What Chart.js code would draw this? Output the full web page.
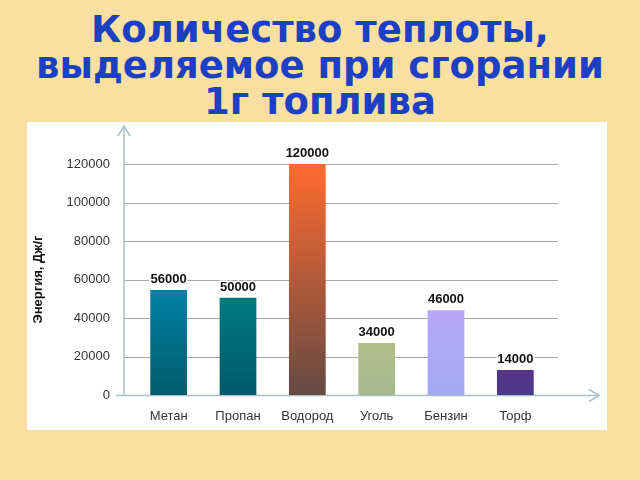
<!DOCTYPE html>
<html><head><meta charset="utf-8">
<script src="https://cdn.jsdelivr.net/npm/chart.js@4/dist/chart.umd.min.js"></script>
<style>
body{margin:0;width:640px;height:480px;background:#f9e0a2;position:relative;overflow:hidden}
h1{position:absolute;top:12px;left:0;width:640px;margin:0;text-align:center;font:bold 37px/36px "DejaVu Sans",sans-serif;color:#1d3fc4;white-space:nowrap}
#panel{position:absolute;left:27px;top:122px;width:580px;height:308px;background:#fff}
</style></head><body>
<h1>Количество теплоты,<br>выделяемое при сгорании<br>1г топлива</h1>
<div id="panel"><canvas id="c" width="580" height="308"></canvas></div>
<script>
const categories = ["Метан","Пропан","Водород","Уголь","Бензин","Торф"];
const values = [54500, 50500, 120000, 27000, 44000, 13000];
const valueLabels = ["56000","50000","120000","34000","46000","14000"];
const yTicks = [0, 20000, 40000, 60000, 80000, 100000, 120000];
const gradColors = [["#00aee8","#005c6c"],["#00a89c","#005a68"],["#ff6a30","#654a42"],
  ["#d4cc62","#a8b890"],["#dca2ff","#a2aaf0"],["#c0005a","#4a3a8a"]];

function byId(id){ return document.getElementById(id); }
const axisCol = "#a9c0c6";

const deco = {
  id:"deco",
  beforeDatasetsDraw(chart){
    const {ctx, chartArea:a, scales:{y}} = chart;
    const ax = a.left-10;
    ctx.save();
    ctx.strokeStyle="#a8a8a8"; ctx.lineWidth=1;
    yTicks.slice(1).forEach(v=>{
      const py=Math.round(y.getPixelForValue(v))+0.5;
      ctx.beginPath(); ctx.moveTo(ax,py); ctx.lineTo(531,py); ctx.stroke();
    });
    const y0=Math.round(y.getPixelForValue(0))+0.5;
    ctx.strokeStyle=axisCol; ctx.lineWidth=1.5;
    ctx.beginPath(); ctx.moveTo(ax,y0); ctx.lineTo(ax,4); ctx.stroke();
    ctx.beginPath(); ctx.moveTo(ax-6,14); ctx.lineTo(ax,4); ctx.lineTo(ax+6,14); ctx.stroke();
    ctx.beginPath(); ctx.moveTo(ax-8,y0); ctx.lineTo(572,y0); ctx.stroke();
    ctx.beginPath(); ctx.moveTo(562,y0-6); ctx.lineTo(572,y0); ctx.lineTo(562,y0+6); ctx.stroke();
    ctx.restore();
  },
  afterDatasetsDraw(chart){
    const {ctx} = chart;
    ctx.save();
    ctx.font='bold 13px "Liberation Sans",Arial,sans-serif';
    ctx.textAlign="center"; ctx.textBaseline="bottom";
    chart.getDatasetMeta(0).data.forEach((bar,i)=>{
      ctx.lineWidth=3; ctx.strokeStyle="#fff"; ctx.strokeText(valueLabels[i],bar.x,bar.y-4);
      ctx.fillStyle="#111"; ctx.fillText(valueLabels[i],bar.x,bar.y-4);
    });
    ctx.restore();
  }
};

new Chart(byId("c").getContext("2d"), {
  type:"bar",
  data:{ labels:categories, datasets:[{ data:values, barPercentage:0.53, categoryPercentage:1,
    backgroundColor:(c)=>{
      const a=c.chart.chartArea; if(!a) return gradColors[c.dataIndex][0];
      const bar=c.chart.getDatasetMeta(0).data[c.dataIndex];
      const top = bar && isFinite(bar.y) ? bar.y : a.top;
      const g=c.chart.ctx.createLinearGradient(0,top,0,a.bottom);
      g.addColorStop(0,gradColors[c.dataIndex][0]); g.addColorStop(1,gradColors[c.dataIndex][1]);
      return g;
    } }]},
  options:{
    responsive:false, animation:false,
    layout:{ padding:{ top:42, right:57, left:0, bottom:0 } },
    plugins:{ legend:{display:false}, tooltip:{enabled:false} },
    scales:{
      x:{ grid:{display:false}, border:{display:false},
        ticks:{ color:"#333", font:{size:13, family:"Liberation Sans"}, padding:6 },
        afterFit:s=>{ s.height=35; } },
      y:{ min:0, max:120000, grid:{display:false}, border:{display:false},
        afterBuildTicks:s=>{ s.ticks=yTicks.map(v=>({value:v})); },
        ticks:{ color:"#333", font:{size:13, family:"Liberation Sans"}, padding:16, callback:v=>String(v) },
        title:{ display:true, text:"Энергия, Дж/г", color:"#111", font:{size:13, weight:"bold", family:"Liberation Sans"} },
        afterFit:s=>{ s.width=107; } }
    }
  },
  plugins:[deco]
});
</script></body></html>
